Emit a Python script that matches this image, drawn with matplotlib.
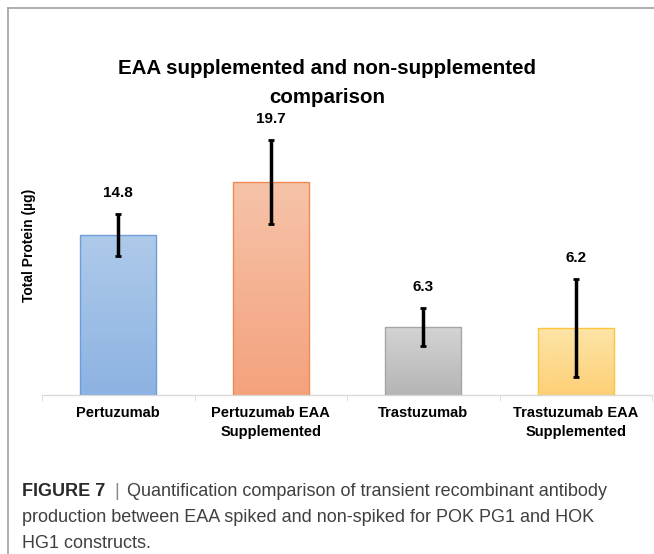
import numpy as np
import matplotlib.pyplot as plt
import matplotlib.colors as mcolors
from matplotlib.lines import Line2D

plt.rcParams['font.family'] = ['Liberation Sans', 'DejaVu Sans']

# data
categories = ['Pertuzumab', 'Pertuzumab EAA\nSupplemented', 'Trastuzumab', 'Trastuzumab EAA\nSupplemented']
values = [14.8, 19.7, 6.3, 6.2]
errors = [1.95, 3.9, 1.72, 4.5]
labels = ['14.8', '19.7', '6.3', '6.2']

top_colors = ['#aecaea', '#f6c3a9', '#d4d4d4', '#fde4a6']
bottom_colors = ['#8db3e2', '#f4a27d', '#b5b5b5', '#fdd077']
edge_colors = ['#6d9eda', '#f08a50', '#a6a6a6', '#fcc540']

fig = plt.figure(figsize=(6.54, 5.54), dpi=100)
W, H = 654, 554

# frame lines of the figure panel
fig.add_artist(Line2D([8 / W, 1], [1 - 8 / H, 1 - 8 / H], color='#a0a0a0', lw=1.2))
fig.add_artist(Line2D([8 / W, 8 / W], [0, 1 - 8 / H], color='#a0a0a0', lw=1.2))

ax = fig.add_axes([42 / W, 159 / H, 610 / W, 270 / H])
x = np.arange(len(categories))
bars = ax.bar(x, values, width=0.5, color='none', edgecolor=edge_colors, linewidth=1, zorder=3)

# vertical gradient in each bar
for b, ct, cb in zip(bars, top_colors, bottom_colors):
    c1 = np.array(mcolors.to_rgb(cb))
    c2 = np.array(mcolors.to_rgb(ct))
    t = np.linspace(0, 1, 100)[:, None]
    grad = (c1 * (1 - t) + c2 * t)[:, None, :]
    x0, y0 = b.get_x(), b.get_y()
    im = ax.imshow(grad, extent=[x0, x0 + b.get_width(), y0, y0 + b.get_height()],
                   origin='lower', aspect='auto', zorder=2)
    im.set_clip_path(b)

ax.errorbar(x, values, yerr=errors, fmt='none', ecolor='black', elinewidth=2.5,
            capsize=2.5, capthick=2, zorder=4)

for xi, v, e, lab in zip(x, values, errors, labels):
    ax.text(xi, v + e + 1.95, lab, ha='center', va='center', fontsize=11,
            fontweight='bold', clip_on=False)

ax.set_xlim(-0.5, 3.5)
ax.set_ylim(0, 25)
ax.set_yticks([])
for s in ['top', 'right', 'left']:
    ax.spines[s].set_visible(False)
ax.spines['bottom'].set_color('#d9d9d9')
ax.spines['bottom'].set_linewidth(1)
ax.set_xticks(x)
ax.set_xticklabels(categories, fontsize=10.5, fontweight='bold', linespacing=1.4)
ax.tick_params(axis='x', length=0, pad=8)
ax.set_xticks(np.arange(-0.5, 4, 1), minor=True)
ax.tick_params(axis='x', which='minor', length=4, color='#d9d9d9')

fig.text(29 / W, 1 - 245 / H, 'Total Protein (µg)', rotation=90, ha='center', va='center',
         fontsize=10, fontweight='bold')

fig.text(327 / W, 1 - 83 / H, 'EAA supplemented and non-supplemented\ncomparison',
         ha='center', va='center', fontsize=14.8, fontweight='bold', linespacing=1.68)

# caption
cap_size = 13
cap_col = '#404040'
fig.text(22 / W, 1 - 492 / H, 'FIGURE 7', fontsize=cap_size, fontweight='bold',
         color='#2a2a2a', va='center')
fig.text(117 / W, 1 - 492 / H, '|', fontsize=cap_size, color='#888888',
         va='center', ha='center')
fig.text(127 / W, 1 - 492 / H, 'Quantification comparison of transient recombinant antibody',
         fontsize=cap_size, color=cap_col, va='center')
fig.text(22 / W, 1 - 518 / H, 'production between EAA spiked and non-spiked for POK PG1 and HOK',
         fontsize=cap_size, color=cap_col, va='center')
fig.text(22 / W, 1 - 543 / H, 'HG1 constructs.', fontsize=cap_size, color=cap_col, va='center')

fig.savefig('out.png', dpi=100)
